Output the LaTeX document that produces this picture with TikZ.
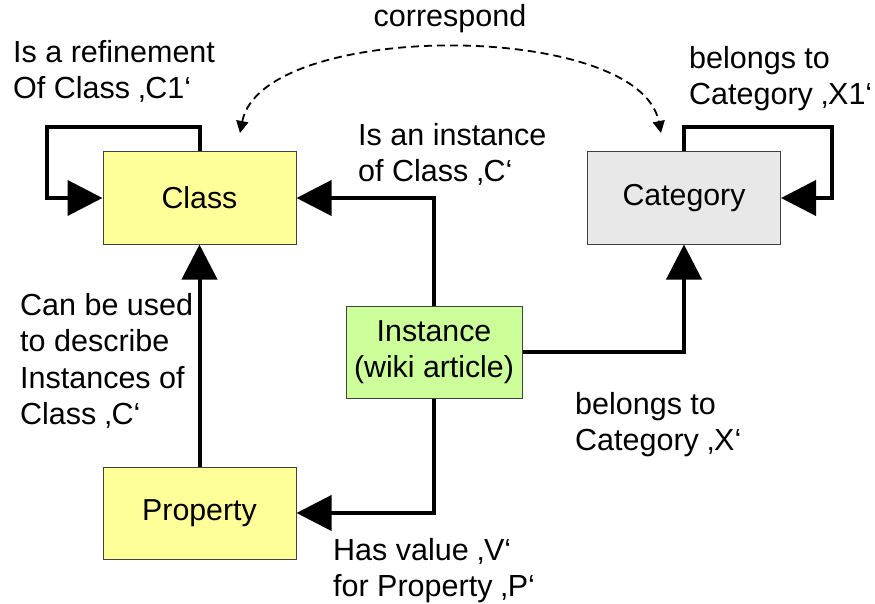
\documentclass[tikz,border=0pt]{standalone}
\usepackage{fontspec}
\setmainfont{Liberation Sans}
\usetikzlibrary{arrows.meta}
\definecolor{classyellow}{HTML}{FFFF99}
\definecolor{catgray}{HTML}{E8E8E8}
\definecolor{instgreen}{HTML}{CCFF99}
\begin{document}
\begin{tikzpicture}[x=1pt,y=-1pt,
  box/.style={draw=black!75, line width=1pt, minimum width=193pt, minimum height=92pt,
    inner sep=0pt, align=center, font=\fontsize{30.3}{36}\selectfont},
  conn/.style={line width=4pt, -{Triangle[length=35pt,width=35pt]}},
  corr/.style={line width=1.8pt, dash pattern=on 8pt off 5pt,
    {Triangle[length=12pt,width=12pt]}-{Triangle[length=12pt,width=12pt]}},
  lbl/.style={anchor=north west, inner sep=0pt, align=left, font=\fontsize{30.5}{36.5}\selectfont}]
\useasboundingbox (0,0) rectangle (875,604);
% boxes
\node[box, fill=classyellow] (class) at (199.5,198) {Class};
\node[box, fill=catgray] (cat) at (684,198) {Category};
\node[box, fill=instgreen, minimum width=176pt] (inst) at (434,352) {Instance\\(wiki article)};
\node[box, fill=classyellow] (prop) at (199.5,513) {Property};
% labels
\node[lbl] (lrefine) at (13,40) {Is a refinement\\Of Class ‚C1‘};
\node[anchor=base, inner sep=0pt, font=\fontsize{30.5}{36}\selectfont] (lcorr) at (450,27) {correspond};
\node[lbl] (lbelx1) at (689,46) {belongs to\\Category ‚X1‘};
\node[lbl] (linst) at (358,123) {Is an instance\\of Class ‚C‘};
\node[lbl] (lused) at (20,293) {Can be used\\to describe\\Instances of\\Class ‚C‘};
\node[lbl] (lbelx) at (575,392) {belongs to\\Category ‚X‘};
\node[lbl] (lval) at (333,538) {Has value ‚V‘\\for Property ‚P‘};
% connectors
\draw[conn] (class.north) -- ++(0,-24) -| (47,198) -- (class.west);
\draw[conn] (cat.north) -- ++(0,-24) -| (832,198) -- (cat.east);
\draw[conn] (inst.north) |- (class.east);
\draw[conn] (inst.east) -| (cat.south);
\draw[conn] (inst.south) |- (prop.east);
\draw[conn] (prop.north) -- (class.south);
\coordinate (ctl) at (240,133);
\coordinate (ctr) at (661,133);
\draw[corr] (ctl) .. controls (262,20) and (639,20) .. (ctr);
\end{tikzpicture}
\end{document}
